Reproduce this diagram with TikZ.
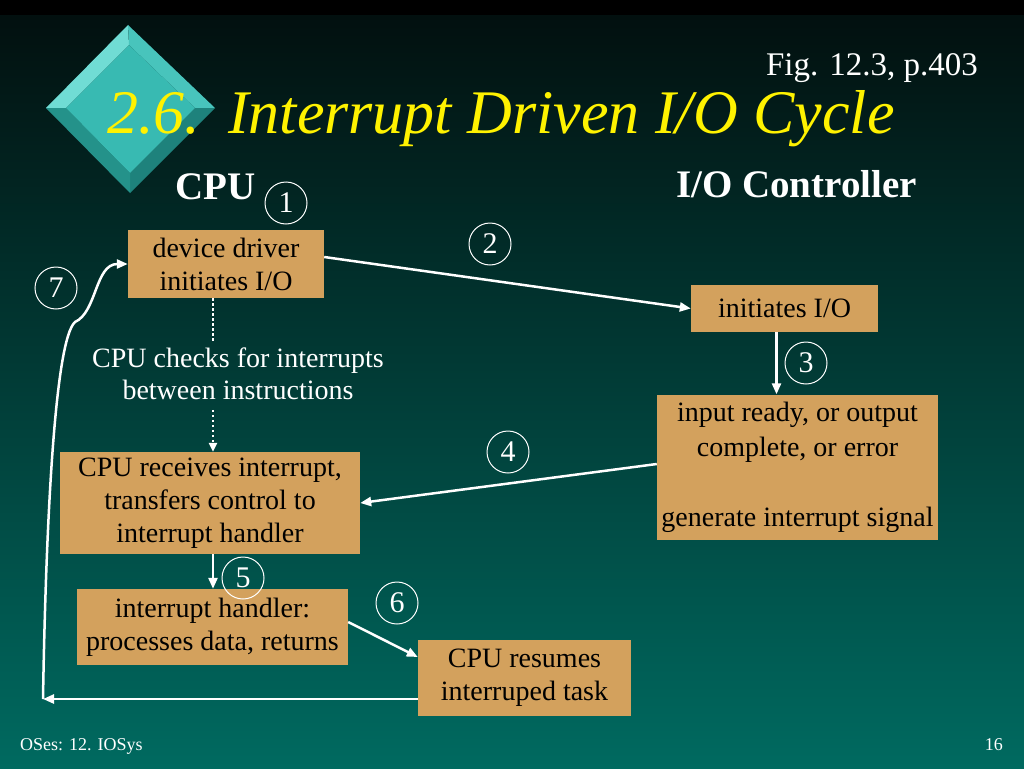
\documentclass[tikz,border=0pt]{standalone}
\usepackage{fontspec}
\setmainfont{Liberation Serif}
\usetikzlibrary{arrows.meta,calc,positioning}
\definecolor{boxtan}{RGB}{211,161,93}
\definecolor{slidetop}{RGB}{2,16,15}
\definecolor{slidebot}{RGB}{0,106,96}
\definecolor{gemface}{RGB}{56,186,178}
\definecolor{gemlight}{RGB}{112,220,212}
\definecolor{gemmid}{RGB}{72,196,188}
\definecolor{gemdark}{RGB}{36,146,138}
\definecolor{gemdeep}{RGB}{30,130,124}
\tikzset{
  io box/.style={fill=boxtan,text=black,align=center,inner sep=0pt,font=\fontsize{28}{33}\selectfont},
  step num/.style={circle,draw=white,line width=1pt,minimum size=42pt,inner sep=0pt,text=white,font=\fontsize{30}{30}\selectfont},
  flow arrow/.style={white,line width=2.5pt,-{Triangle[length=11pt,width=9pt]}},
  dot line/.style={white,line width=2.5pt,dash pattern=on 2.5pt off 2.5pt},
  head text/.style={text=white,font=\fontsize{39}{39}\selectfont\bfseries,inner sep=0pt},
  title text/.style={anchor=base west,inner sep=0pt,text=yellow,font=\fontsize{62}{62}\selectfont\itshape},
}

\begin{document}
\begin{tikzpicture}[x=1pt,y=-1pt]
  \useasboundingbox (0,0) rectangle (1024,768);
  % slide background
  \shade[top color=slidetop,bottom color=slidebot] (0,15) rectangle (1024,768);
  \fill[black] (0,0) rectangle (1024,15);
  % bevelled gem
  \fill[gemlight] (46,108) -- (128,25) -- (129,45) -- (66,108) -- cycle;
  \fill[gemmid] (128,25) -- (215,108) -- (195,108) -- (129,45) -- cycle;
  \fill[gemdeep] (215,108) -- (130,193) -- (130,173) -- (195,108) -- cycle;
  \fill[gemdark] (130,193) -- (46,108) -- (66,108) -- (130,173) -- cycle;
  \fill[gemface] (66,108) -- (129,45) -- (195,108) -- (130,173) -- cycle;
  % title
  \node[title text] (num) at (107,133) {2.6.};
  \node[title text] (title) at (228,133) {Interrupt Driven I/O Cycle};
  \node[anchor=base east,inner sep=0pt,text=white,font=\fontsize{33}{33}\selectfont] (fig) at (978,75) {Fig. 12.3, p.403};
  \node[head text,anchor=base west] (cpu) at (175,199) {CPU};
  \node[head text,anchor=base west] (ctl) at (676,197) {I/O Controller};

  % boxes
  \node[io box,minimum width=196pt,minimum height=68pt] (drv) at (226,264) {device driver\\initiates I/O};
  \node[io box,minimum width=187pt,minimum height=47pt] (ctlio) at (784.5,308.5) {initiates I/O};
  \node[io box,minimum width=281pt,minimum height=145pt,font=\fontsize{28}{35}\selectfont] (ready) at (797.5,467)
    {input ready, or output\\complete, or error\\[35pt]generate interrupt signal};
  \node[io box,minimum width=300pt,minimum height=102pt] (recv) at (210,503) {CPU receives interrupt,\\transfers control to\\interrupt handler};
  \node[io box,minimum width=271pt,minimum height=76pt] (handler) at (212.5,627) {interrupt handler:\\processes data, returns};
  \node[io box,minimum width=213pt,minimum height=76pt] (resume) at (524.5,678) {CPU resumes\\interruped task};
  \node[align=center,text=white,inner sep=0pt,font=\fontsize{28}{32}\selectfont] (chk) at (238,374) {CPU checks for interrupts\\between instructions};

  % step numbers
  \node[step num] (n1) at (286,203) {1};
  \node[step num] (n2) at (490,244) {2};
  \node[step num] (n3) at (806,363) {3};
  \node[step num] (n4) at (508,452) {4};
  \node[step num] (n5) at (243,578) {5};
  \node[step num] (n6) at (397,603) {6};
  \node[step num] (n7) at (56,288) {7};

  % connectors
  \coordinate (ret) at (43,699);
  \draw[dot line] ([xshift=-13pt]drv.south) -- ++(0,44);
  \draw[dot line,-{Triangle[length=9pt,width=8pt]}] ([xshift=3pt]recv.north) ++(0,-42) -- ([xshift=3pt]recv.north);
  \draw[flow arrow] ([yshift=7pt]drv.east) -- (ctlio.west);
  \draw[flow arrow] ([xshift=-8pt]ctlio.south) -- ([xshift=-8pt]ctlio.south |- ready.north);
  \draw[flow arrow] ([yshift=3pt]ready.west) -- (recv.east);
  \draw[flow arrow] ([xshift=3pt]recv.south) -- ([xshift=3pt]recv.south |- handler.north);
  \draw[flow arrow] ([yshift=5pt]handler.east) -- ([yshift=21pt]resume.west);
  \draw[flow arrow] ([yshift=-21pt]resume.west) -- (ret);
  \draw[flow arrow] (ret) .. controls (46,520) and (55,340) .. (75,322)
    .. controls (97,312) and (95,264) .. (drv.west);
  % footer
  \node[anchor=base west,inner sep=0pt,text=white,font=\fontsize{18}{18}\selectfont] (foot) at (20,750) {OSes: 12. IOSys};
  \node[anchor=base east,inner sep=0pt,text=white,font=\fontsize{18}{18}\selectfont] (page) at (1003,750) {16};
\end{tikzpicture}
\end{document}
